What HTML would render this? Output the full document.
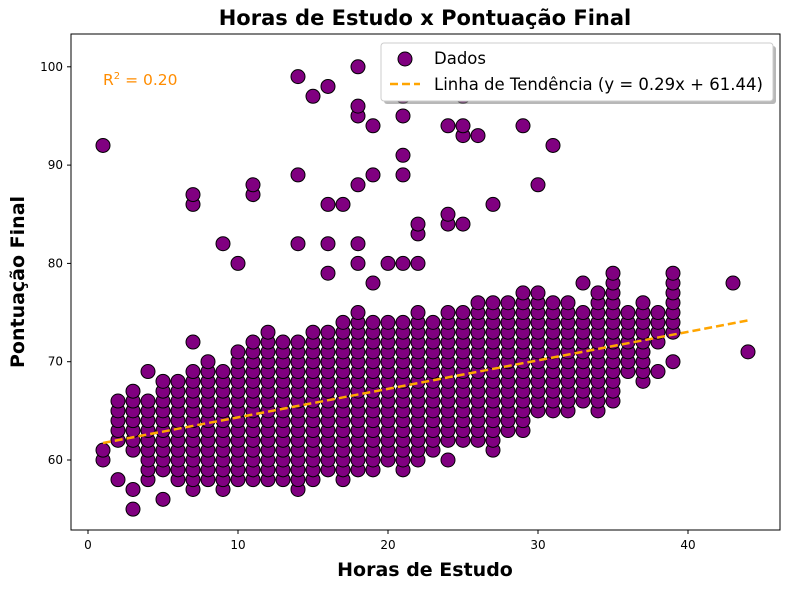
<!DOCTYPE html>
<html><head><meta charset="utf-8"><style>
body{margin:0;background:#fff;font-family:"Liberation Sans","DejaVu Sans",sans-serif}
svg text{font-family:"DejaVu Sans","Liberation Sans",sans-serif}
</style></head><body>
<svg id="chart" width="790" height="590" xmlns="http://www.w3.org/2000/svg">
<text x="425" y="25" text-anchor="middle" font-size="21" font-weight="bold">Horas de Estudo x Pontuação Final</text>
<g id="plot"></g>
<rect x="71" y="34" width="709" height="496" fill="none" stroke="#000" stroke-width="1"/>
<g id="axes"></g>
<text x="425" y="576" text-anchor="middle" font-size="19" font-weight="bold">Horas de Estudo</text>
<text x="24" y="282" text-anchor="middle" font-size="19" font-weight="bold" transform="rotate(-90 24 282)">Pontuação Final</text>
<text x="103" y="85" font-size="15.5" fill="#ff8c00">R<tspan dy="-6" font-size="10">2</tspan><tspan dy="6"> = 0.20</tspan></text>
<g>
<rect x="384" y="46" width="392" height="58" rx="3" fill="#888" opacity="0.6"/>
<rect x="381" y="43" width="392" height="58" rx="3" fill="#fff" stroke="#ccc"/>
<circle cx="405" cy="59" r="7" fill="#800080" stroke="#000"/>
<text x="434" y="64" font-size="16.5">Dados</text>
<line x1="390" y1="84" x2="420" y2="84" stroke="#ffa500" stroke-width="2.5" stroke-dasharray="8,4"/>
<text x="434" y="90" font-size="16.5">Linha de Tendência (y = 0.29x + 61.44)</text>
</g>
</svg>
<script>
const colX   = [1,2,3,4,5,6,7,8,9,10,11,12,13,14,15,16,17,18,19,20,21,22,23,24,25,26,27,28,29,30,31,32,33,34,35,36,37,38,39];
const colMin = [60,62,61,58,59,58,57,58,57,58,58,58,58,57,58,59,58,59,59,60,59,60,61,62,62,62,61,63,63,65,65,65,66,65,66,69,68,72,73];
const colMax = [61,66,67,66,68,68,69,70,69,71,72,73,72,72,73,73,74,75,74,74,74,75,74,75,75,76,76,76,77,77,76,76,75,77,79,75,76,75,79];
const extraX = [1,2,3,3,4,5,7,7,7,9,10,11,11,14,14,14,15,16,16,16,16,17,18,18,18,18,18,18,19,19,19,20,21,21,21,21,21,22,22,22,24,24,24,24,25,25,25,25,26,27,29,30,31,33,38,39,43,44];
const extraY = [92,58,55,57,69,56,72,86,87,82,80,87,88,82,89,99,97,79,82,86,98,86,80,82,88,95,96,100,78,89,94,80,80,89,91,95,97,80,83,84,60,84,85,94,84,93,94,97,93,86,94,88,92,78,69,70,78,71];
const xTicks = [0,10,20,30,40];
const yTicks = [60,70,80,90,100];
const slope = 0.29, intercept = 61.44, lineX = [1,44];
const NS="http://www.w3.org/2000/svg";
const sx = v => 88 + v*15;
const sy = v => 460 - (v-60)*9.83;
const plot=document.getElementById('plot'), axes=document.getElementById('axes');
function pt(x,y){
  const c=document.createElementNS(NS,'circle');
  c.setAttribute('cx',sx(x));c.setAttribute('cy',sy(y));c.setAttribute('r',7);
  c.setAttribute('fill','#800080');c.setAttribute('stroke','#000');c.setAttribute('stroke-width','1');
  
  
  plot.appendChild(c);
}
colX.forEach((x,i)=>{for(let y=colMin[i];y<=colMax[i];y++)pt(x,y);});
extraX.forEach((x,i)=>pt(x,extraY[i]));
const tl=document.createElementNS(NS,'line');
tl.setAttribute('x1',sx(lineX[0]));tl.setAttribute('y1',sy(slope*lineX[0]+intercept));
tl.setAttribute('x2',sx(lineX[1]));tl.setAttribute('y2',sy(slope*lineX[1]+intercept));
tl.setAttribute('stroke','#ffa500');tl.setAttribute('stroke-width','2.5');tl.setAttribute('stroke-dasharray','8,4');


plot.appendChild(tl);
xTicks.forEach(t=>{
  const l=document.createElementNS(NS,'line');
  l.setAttribute('x1',sx(t));l.setAttribute('x2',sx(t));l.setAttribute('y1',530);l.setAttribute('y2',534);l.setAttribute('stroke','#000');
  
  
  axes.appendChild(l);
  const tx=document.createElementNS(NS,'text');
  tx.setAttribute('x',sx(t));tx.setAttribute('y',549);tx.setAttribute('text-anchor','middle');tx.setAttribute('font-size','12');
  tx.textContent=t;
  
  
  axes.appendChild(tx);
});
yTicks.forEach(t=>{
  const l=document.createElementNS(NS,'line');
  l.setAttribute('x1',67);l.setAttribute('x2',71);l.setAttribute('y1',sy(t));l.setAttribute('y2',sy(t));l.setAttribute('stroke','#000');
  
  
  axes.appendChild(l);
  const tx=document.createElementNS(NS,'text');
  tx.setAttribute('x',63);tx.setAttribute('y',sy(t)+4);tx.setAttribute('text-anchor','end');tx.setAttribute('font-size','12');
  tx.textContent=t;
  
  
  axes.appendChild(tx);
});
</script>
</body></html>
